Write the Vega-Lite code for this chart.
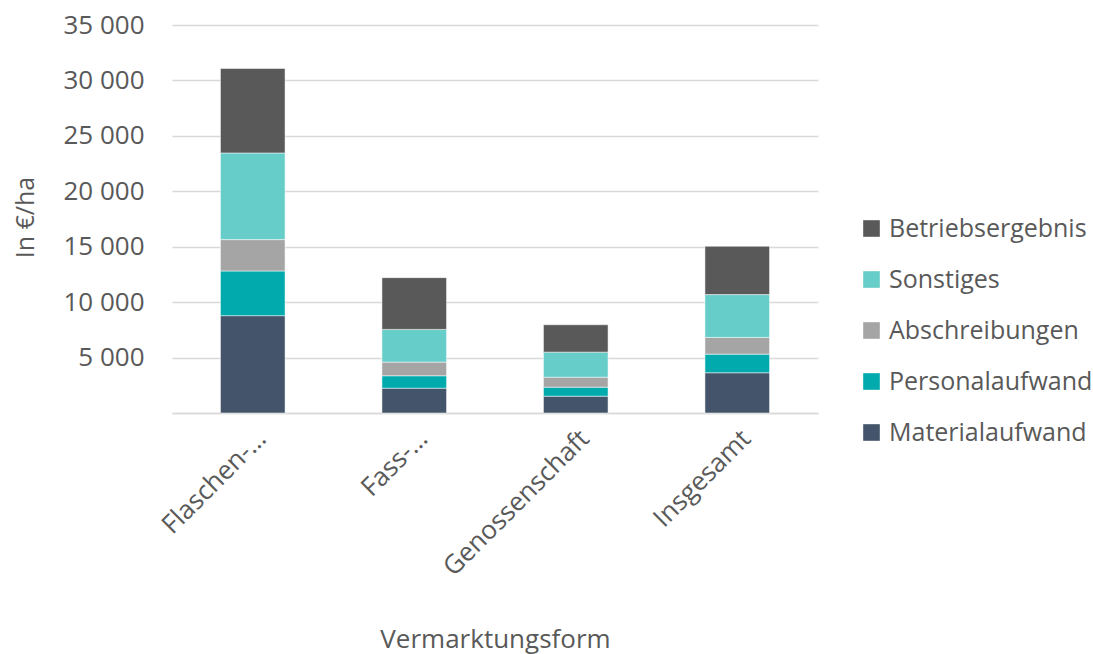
{
  "$schema": "https://vega.github.io/schema/vega-lite/v6.json",
  "width": 646,
  "height": 388,
  "autosize": "none",
  "padding": {"left": 172, "top": 25, "right": 275, "bottom": 241},
  "background": "white",
  "config": {
    "font": "Open Sans",
    "view": {"stroke": null}
  },
  "data": {
    "values": [
      {"Vermarktungsform": "Flaschen-…", "Kategorie": "Materialaufwand", "Rang": 1, "Wert": 8780},
      {"Vermarktungsform": "Flaschen-…", "Kategorie": "Personalaufwand", "Rang": 2, "Wert": 4030},
      {"Vermarktungsform": "Flaschen-…", "Kategorie": "Abschreibungen", "Rang": 3, "Wert": 2830},
      {"Vermarktungsform": "Flaschen-…", "Kategorie": "Sonstiges", "Rang": 4, "Wert": 7820},
      {"Vermarktungsform": "Flaschen-…", "Kategorie": "Betriebsergebnis", "Rang": 5, "Wert": 7620},
      {"Vermarktungsform": "Fass-…", "Kategorie": "Materialaufwand", "Rang": 1, "Wert": 2240},
      {"Vermarktungsform": "Fass-…", "Kategorie": "Personalaufwand", "Rang": 2, "Wert": 1120},
      {"Vermarktungsform": "Fass-…", "Kategorie": "Abschreibungen", "Rang": 3, "Wert": 1230},
      {"Vermarktungsform": "Fass-…", "Kategorie": "Sonstiges", "Rang": 4, "Wert": 2950},
      {"Vermarktungsform": "Fass-…", "Kategorie": "Betriebsergebnis", "Rang": 5, "Wert": 4670},
      {"Vermarktungsform": "Genossenschaft", "Kategorie": "Materialaufwand", "Rang": 1, "Wert": 1520},
      {"Vermarktungsform": "Genossenschaft", "Kategorie": "Personalaufwand", "Rang": 2, "Wert": 810},
      {"Vermarktungsform": "Genossenschaft", "Kategorie": "Abschreibungen", "Rang": 3, "Wert": 900},
      {"Vermarktungsform": "Genossenschaft", "Kategorie": "Sonstiges", "Rang": 4, "Wert": 2260},
      {"Vermarktungsform": "Genossenschaft", "Kategorie": "Betriebsergebnis", "Rang": 5, "Wert": 2470},
      {"Vermarktungsform": "Insgesamt", "Kategorie": "Materialaufwand", "Rang": 1, "Wert": 3630},
      {"Vermarktungsform": "Insgesamt", "Kategorie": "Personalaufwand", "Rang": 2, "Wert": 1680},
      {"Vermarktungsform": "Insgesamt", "Kategorie": "Abschreibungen", "Rang": 3, "Wert": 1510},
      {"Vermarktungsform": "Insgesamt", "Kategorie": "Sonstiges", "Rang": 4, "Wert": 3860},
      {"Vermarktungsform": "Insgesamt", "Kategorie": "Betriebsergebnis", "Rang": 5, "Wert": 4360}
    ]
  },
  "mark": {"type": "bar"},
  "encoding": {
    "x": {
      "field": "Vermarktungsform",
      "type": "nominal",
      "sort": null,
      "scale": {"paddingInner": 0.6, "paddingOuter": 0.3},
      "axis": {
        "title": "Vermarktungsform",
        "titleFontSize": 26,
        "titleFontWeight": "normal",
        "titleColor": "#595959",
        "titleY": 226,
        "titleBaseline": "middle",
        "labelAngle": -45,
        "labelFontSize": 26,
        "labelColor": "#595959",
        "labelPadding": 12,
        "labelLimit": 400,
        "ticks": false,
        "domain": true,
        "domainColor": "#D9D9D9",
        "domainWidth": 1.5
      }
    },
    "y": {
      "field": "Wert",
      "type": "quantitative",
      "stack": "zero",
      "scale": {"domain": [0, 35000], "nice": false},
      "axis": {
        "title": "In €/ha",
        "titleFontSize": 25,
        "titleFontWeight": "normal",
        "titleColor": "#595959",
        "titleAngle": -90,
        "titleX": -147,
        "titleY": 192,
        "titleAlign": "center",
        "titleBaseline": "middle",
        "values": [0, 5000, 10000, 15000, 20000, 25000, 30000, 35000],
        "labelExpr": "datum.value == 0 ? '' : replace(format(datum.value, ','), ',', ' ')",
        "labelFontSize": 26,
        "labelColor": "#595959",
        "labelPadding": 28,
        "ticks": false,
        "domain": false,
        "grid": true,
        "gridColor": "#D9D9D9",
        "gridWidth": 1.5
      }
    },
    "color": {
      "field": "Kategorie",
      "type": "nominal",
      "scale": {
        "domain": ["Betriebsergebnis", "Sonstiges", "Abschreibungen", "Personalaufwand", "Materialaufwand"],
        "range": ["#595959", "#66CDC9", "#A5A5A5", "#00AAAD", "#44546A"]
      },
      "legend": {
        "title": null,
        "orient": "none",
        "legendX": 687,
        "legendY": 191,
        "symbolType": "square",
        "symbolSize": 276,
        "symbolStrokeWidth": 0,
        "symbolOpacity": 1,
        "labelFontSize": 25,
        "labelColor": "#595959",
        "labelOffset": 5,
        "rowPadding": 25,
        "labelLimit": 300
      }
    },
    "order": {"field": "Rang", "type": "quantitative", "sort": "ascending"},
    "stroke": {"value": "white"},
    "strokeWidth": {"value": 0.5}
  }
}
